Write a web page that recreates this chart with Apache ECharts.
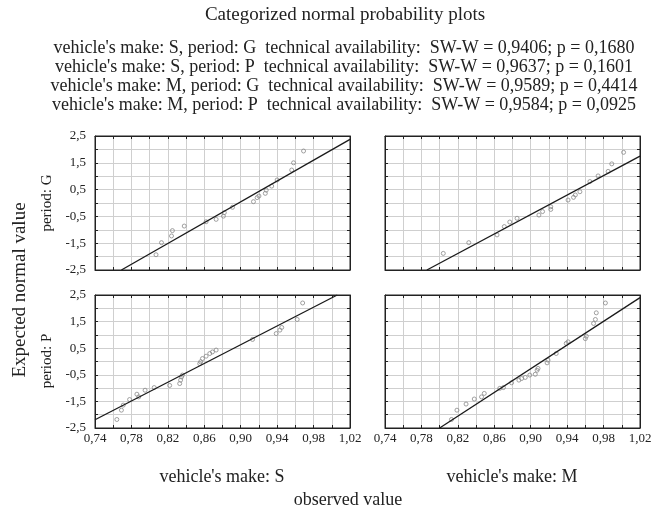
<!DOCTYPE html>
<html>
<head>
<meta charset="utf-8">
<script src="https://cdn.jsdelivr.net/npm/echarts@6/dist/echarts.min.js"></script>
<style>
  html, body { margin: 0; padding: 0; background: #fff; }
  #chart { width: 657px; height: 510px; }
</style>
</head>
<body>
<div id="chart"></div>
<script>
// Observed technical availability vs. expected normal value, per make and period
const pointsSG = [
  [0.807, -1.93], [0.813, -1.48], [0.824, -1.23], [0.825, -1.03], [0.838, -0.86],
  [0.862, -0.70], [0.873, -0.61], [0.881, -0.49], [0.882, -0.36], [0.891, -0.16],
  [0.914, 0.05], [0.918, 0.20], [0.920, 0.26], [0.927, 0.36], [0.928, 0.48],
  [0.934, 0.63], [0.940, 0.86], [0.956, 1.23], [0.958, 1.50], [0.969, 1.94]
];
const pointsMG = [
  [0.804, -1.88], [0.832, -1.48], [0.863, -1.19], [0.871, -0.88], [0.877, -0.71],
  [0.885, -0.57], [0.909, -0.45], [0.913, -0.32], [0.922, -0.24], [0.922, -0.14],
  [0.941, 0.11], [0.947, 0.21], [0.949, 0.30], [0.954, 0.42], [0.965, 0.80],
  [0.974, 1.01], [0.985, 1.18], [0.989, 1.46], [1.002, 1.89]
];
const pointsSP = [
  [0.764, -2.18], [0.769, -1.83], [0.771, -1.64], [0.778, -1.43], [0.786, -1.23],
  [0.788, -1.33], [0.795, -1.08], [0.805, -0.98], [0.822, -0.90], [0.833, -0.83],
  [0.834, -0.70], [0.835, -0.58], [0.836, -0.51], [0.855, -0.08], [0.856, -0.01],
  [0.858, 0.11], [0.862, 0.20], [0.866, 0.30], [0.869, 0.36], [0.873, 0.43],
  [0.913, 0.83], [0.939, 1.05], [0.943, 1.18], [0.945, 1.28], [0.962, 1.58],
  [0.968, 2.20]
];
const pointsMP = [
  [0.813, -2.18], [0.819, -1.83], [0.829, -1.60], [0.838, -1.41], [0.846, -1.33],
  [0.849, -1.20], [0.866, -1.01], [0.870, -0.98], [0.879, -0.80], [0.887, -0.70],
  [0.890, -0.64], [0.894, -0.60], [0.899, -0.51], [0.905, -0.48], [0.907, -0.33],
  [0.908, -0.26], [0.918, -0.05], [0.919, 0.05], [0.928, 0.30], [0.939, 0.68],
  [0.941, 0.74], [0.960, 0.86], [0.961, 0.95], [0.969, 1.43], [0.971, 1.58],
  [0.972, 1.83], [0.982, 2.20]
];

// Reference lines (end points in data units)
const lineSG = [[0.769, -2.5], [1.02, 2.376]];
const lineMG = [[0.786, -2.5], [1.02, 1.75]];
const lineSP = [[0.74, -2.19], [1.006, 2.5]];
const lineMP = [[0.800, -2.5], [1.02, 2.40]];

// Axis ranges and tick steps
const xMin = 0.74, xMax = 1.02, xStep = 0.02;
const yMin = -2.5, yMax = 2.5, yStep = 0.5;

const titleText = 'Categorized normal probability plots';
const statLines = [
  "vehicle's make: S, period: G  technical availability:  SW-W = 0,9406; p = 0,1680",
  "vehicle's make: S, period: P  technical availability:  SW-W = 0,9637; p = 0,1601",
  "vehicle's make: M, period: G  technical availability:  SW-W = 0,9589; p = 0,4414",
  "vehicle's make: M, period: P  technical availability:  SW-W = 0,9584; p = 0,0925"
];
const rowLabels = ['period: G', 'period: P'];
const colLabels = ["vehicle's make: S", "vehicle's make: M"];
const yTitle = 'Expected normal value';
const xTitle = 'observed value';

const serif = '"Liberation Serif", "DejaVu Serif", serif';

const panels = [
  { pts: pointsSG, line: lineSG, left: 95,  top: 136, h: 134, xLab: false, yLab: true },
  { pts: pointsMG, line: lineMG, left: 385, top: 136, h: 134, xLab: false, yLab: false },
  { pts: pointsSP, line: lineSP, left: 95,  top: 295, h: 133, xLab: true,  yLab: true },
  { pts: pointsMP, line: lineMP, left: 385, top: 295, h: 133, xLab: true,  yLab: false }
];
const panelW = 255;

const fmtX = v => {
  const k = Math.round((v - xMin) / xStep);
  return k % 2 === 0 ? v.toFixed(2).replace('.', ',') : '';
};
const fmtY = v => {
  const k = Math.round((v - yMin) / yStep);
  return k % 2 === 0 ? v.toFixed(1).replace('.', ',') : '';
};

const grid = [], xAxis = [], yAxis = [], series = [];
panels.forEach((p, i) => {
  grid.push({
    left: p.left, top: p.top, width: panelW, height: p.h,
    show: true, borderColor: '#222', borderWidth: 1, backgroundColor: '#fff'
  });
  // bottom + top x axes
  ['bottom', 'top'].forEach(pos => {
    xAxis.push({
      type: 'value', gridIndex: i, position: pos, min: xMin, max: xMax, interval: xStep,
      axisLine: { show: true, onZero: false, lineStyle: { color: '#222', width: 1 } },
      axisTick: { show: true, inside: true, length: 3, lineStyle: { color: '#222' } },
      splitLine: { show: pos === 'bottom', lineStyle: { color: '#cfcfcf', width: 1 } },
      axisLabel: {
        show: pos === 'bottom' && p.xLab, formatter: fmtX, margin: 4,
        fontFamily: serif, fontSize: 13, color: '#222', hideOverlap: false,
        showMinLabel: true, showMaxLabel: true
      }
    });
  });
  // left + right y axes
  ['left', 'right'].forEach(pos => {
    yAxis.push({
      type: 'value', gridIndex: i, position: pos, min: yMin, max: yMax, interval: yStep,
      axisLine: { show: true, onZero: false, lineStyle: { color: '#222', width: 1 } },
      axisTick: { show: true, inside: true, length: 3, lineStyle: { color: '#222' } },
      splitLine: { show: pos === 'left', lineStyle: { color: '#cfcfcf', width: 1 } },
      axisLabel: {
        show: pos === 'left' && p.yLab, formatter: fmtY, margin: 9,
        fontFamily: serif, fontSize: 13, color: '#222', hideOverlap: false,
        showMinLabel: true, showMaxLabel: true
      }
    });
  });
  series.push({
    type: 'scatter', xAxisIndex: 2 * i, yAxisIndex: 2 * i,
    data: p.pts, symbol: 'circle', symbolSize: 4,
    itemStyle: { color: 'rgba(255,255,255,0)', borderColor: '#8a8a8a', borderWidth: 1 },
    silent: true, z: 3
  });
  series.push({
    type: 'line', xAxisIndex: 2 * i, yAxisIndex: 2 * i,
    data: p.line, symbol: 'none',
    lineStyle: { color: '#1a1a1a', width: 1.3 },
    silent: true, z: 4
  });
});

const textStyle = (t, size) => ({
  text: t, font: size + 'px ' + serif, fill: '#222', align: 'center', verticalAlign: 'middle'
});

const graphic = [];
graphic.push({ type: 'text', x: 345, y: 15, style: textStyle(titleText, 19) });
statLines.forEach((t, i) => {
  graphic.push({ type: 'text', x: 344, y: 48 + i * 19, style: textStyle(t, 18) });
});
graphic.push({ type: 'text', x: 47, y: 203, rotation: Math.PI / 2, style: textStyle(rowLabels[0], 15) });
graphic.push({ type: 'text', x: 47, y: 361, rotation: Math.PI / 2, style: textStyle(rowLabels[1], 15) });
graphic.push({ type: 'text', x: 20, y: 290, rotation: Math.PI / 2, style: textStyle(yTitle, 19) });
graphic.push({ type: 'text', x: 222, y: 477, style: textStyle(colLabels[0], 18) });
graphic.push({ type: 'text', x: 512, y: 477, style: textStyle(colLabels[1], 18) });
graphic.push({ type: 'text', x: 348, y: 500, style: textStyle(xTitle, 18) });

const chart = echarts.init(document.getElementById('chart'), null, { renderer: 'canvas' });
chart.setOption({
  animation: false,
  backgroundColor: '#fff',
  grid, xAxis, yAxis, series, graphic
});
</script>
</body>
</html>
